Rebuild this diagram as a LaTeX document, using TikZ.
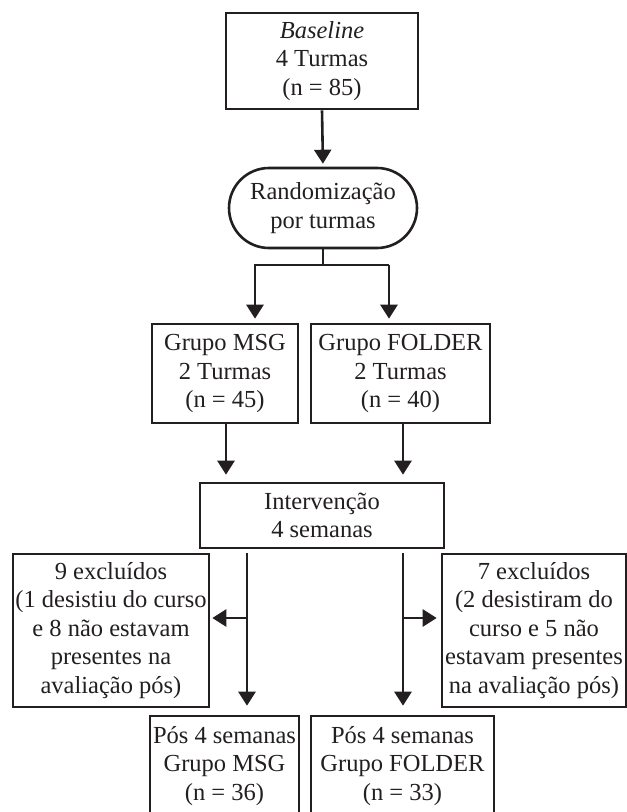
\documentclass[tikz,border=0pt]{standalone}
\usepackage{fontspec}
\setmainfont{Liberation Serif}
\usepackage{tikz}
\usetikzlibrary{positioning,shapes.misc,arrows.meta}
\definecolor{InkBlack}{HTML}{231F20}
\tikzset{
  flowbox/.style={draw=InkBlack,line width=2.6pt,align=center,inner sep=1pt,
    font=\fontsize{24.5}{28.5}\selectfont\color{InkBlack}},
  randbox/.style={flowbox,rounded rectangle},
  flowarrow/.style={line width=2.6pt,draw=InkBlack,
    -{Triangle[width=17pt,length=14pt]}},
  flowline/.style={line width=2.6pt,draw=InkBlack},
}
\begin{document}
\begin{tikzpicture}[x=1pt,y=-1pt]
  \useasboundingbox (0,0) rectangle (627,812);
  \clip (0,0) rectangle (627,812);
  \node[flowbox,minimum width=192pt,minimum height=96pt] (base) at (322,61) {\textit{Baseline}\\4 Turmas\\(n = 85)};
  \node[randbox,minimum width=190pt,minimum height=80pt] (rand) at (323,208) {Randomização\\por turmas};
  \node[flowbox,minimum width=146pt,minimum height=99pt] (msg) at (225,373.5) {Grupo MSG\\2 Turmas\\(n = 45)};
  \node[flowbox,minimum width=179pt,minimum height=99pt] (folder) at (400.5,373.5) {Grupo FOLDER\\2 Turmas\\(n = 40)};
  \node[flowbox,minimum width=244pt,minimum height=65pt] (interv) at (322,515.5) {Intervenção\\4 semanas};
  \node[flowbox,minimum width=196pt,minimum height=153pt] (exc1) at (111,630.5) {9 excluídos\\(1 desistiu do curso\\e 8 não estavam\\presentes na\\avaliação pós)};
  \node[flowbox,minimum width=184pt,minimum height=153pt] (exc2) at (534,630.5) {7 excluídos\\(2 desistiram do\\curso e 5 não\\estavam presentes\\na avaliação pós)};
  \node[flowbox,minimum width=149pt,minimum height=100pt] (pos1) at (224.5,766) {Pós 4 semanas\\Grupo MSG\\(n = 36)};
  \node[flowbox,minimum width=183pt,minimum height=100pt] (pos2) at (402.5,766) {Pós 4 semanas\\Grupo FOLDER\\(n = 33)};
  % split and branch points
  \coordinate (splitL) at (255,265);
  \coordinate (splitR) at (389,265);
  \coordinate (leftgo) at (247,553);
  \coordinate (rightgo) at (403,553);
  \coordinate (leftturn) at (247,618);
  \coordinate (rightturn) at (403,618);
  \draw[flowarrow,shorten >=3pt] (base.south) -- (rand.north);
  \draw[flowline] (rand.south) -- (rand.south |- splitL);
  \draw[flowarrow,shorten >=4pt] (splitR) -- (splitL) -- (splitL |- msg.north);
  \draw[flowarrow,shorten >=4pt] (splitR) -- (splitR |- folder.north);
  \draw[flowarrow,shorten >=7pt] ([xshift=1pt]msg.south) -- ([xshift=1pt]msg.south |- interv.north);
  \draw[flowarrow,shorten >=7pt] ([xshift=2.5pt]folder.south) -- ([xshift=2.5pt]folder.south |- interv.north);
  \draw[flowarrow,shorten >=9pt] (leftgo) -- (leftgo |- pos1.north);
  \draw[flowarrow,shorten >=9pt] (rightgo) -- (rightgo |- pos2.north);
  \draw[flowarrow,shorten >=2pt] (leftturn) -- (leftturn -| exc1.east);
  \draw[flowarrow,shorten >=4pt] (rightturn) -- (rightturn -| exc2.west);
\end{tikzpicture}
\end{document}
